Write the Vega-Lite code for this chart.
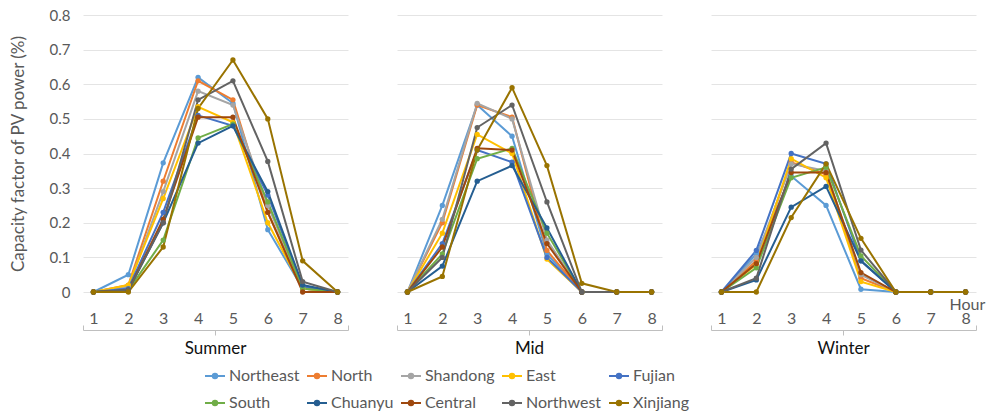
{
  "$schema": "https://vega.github.io/schema/vega-lite/v6.json",
  "background": "white",
  "padding": {"left": 9, "top": 8, "right": 5, "bottom": 5},
  "config": {
    "font": "Lato",
    "view": {"stroke": null},
    "concat": {"spacing": 47}
  },
  "datasets": {
    "pv": [
      {"season":"Summer","region":"Northeast","hour":1,"cf":0},{"season":"Summer","region":"Northeast","hour":2,"cf":0.05},{"season":"Summer","region":"Northeast","hour":3,"cf":0.373},{"season":"Summer","region":"Northeast","hour":4,"cf":0.62},{"season":"Summer","region":"Northeast","hour":5,"cf":0.545},{"season":"Summer","region":"Northeast","hour":6,"cf":0.18},{"season":"Summer","region":"Northeast","hour":7,"cf":0.01},{"season":"Summer","region":"Northeast","hour":8,"cf":0},
      {"season":"Summer","region":"North","hour":1,"cf":0},{"season":"Summer","region":"North","hour":2,"cf":0.02},{"season":"Summer","region":"North","hour":3,"cf":0.32},{"season":"Summer","region":"North","hour":4,"cf":0.61},{"season":"Summer","region":"North","hour":5,"cf":0.555},{"season":"Summer","region":"North","hour":6,"cf":0.23},{"season":"Summer","region":"North","hour":7,"cf":0.01},{"season":"Summer","region":"North","hour":8,"cf":0},
      {"season":"Summer","region":"Shandong","hour":1,"cf":0},{"season":"Summer","region":"Shandong","hour":2,"cf":0.015},{"season":"Summer","region":"Shandong","hour":3,"cf":0.29},{"season":"Summer","region":"Shandong","hour":4,"cf":0.58},{"season":"Summer","region":"Shandong","hour":5,"cf":0.54},{"season":"Summer","region":"Shandong","hour":6,"cf":0.25},{"season":"Summer","region":"Shandong","hour":7,"cf":0.01},{"season":"Summer","region":"Shandong","hour":8,"cf":0},
      {"season":"Summer","region":"East","hour":1,"cf":0},{"season":"Summer","region":"East","hour":2,"cf":0.02},{"season":"Summer","region":"East","hour":3,"cf":0.27},{"season":"Summer","region":"East","hour":4,"cf":0.535},{"season":"Summer","region":"East","hour":5,"cf":0.49},{"season":"Summer","region":"East","hour":6,"cf":0.2},{"season":"Summer","region":"East","hour":7,"cf":0.01},{"season":"Summer","region":"East","hour":8,"cf":0},
      {"season":"Summer","region":"Fujian","hour":1,"cf":0},{"season":"Summer","region":"Fujian","hour":2,"cf":0.01},{"season":"Summer","region":"Fujian","hour":3,"cf":0.23},{"season":"Summer","region":"Fujian","hour":4,"cf":0.51},{"season":"Summer","region":"Fujian","hour":5,"cf":0.48},{"season":"Summer","region":"Fujian","hour":6,"cf":0.28},{"season":"Summer","region":"Fujian","hour":7,"cf":0.015},{"season":"Summer","region":"Fujian","hour":8,"cf":0},
      {"season":"Summer","region":"South","hour":1,"cf":0},{"season":"Summer","region":"South","hour":2,"cf":0.005},{"season":"Summer","region":"South","hour":3,"cf":0.15},{"season":"Summer","region":"South","hour":4,"cf":0.445},{"season":"Summer","region":"South","hour":5,"cf":0.485},{"season":"Summer","region":"South","hour":6,"cf":0.26},{"season":"Summer","region":"South","hour":7,"cf":0.01},{"season":"Summer","region":"South","hour":8,"cf":0},
      {"season":"Summer","region":"Chuanyu","hour":1,"cf":0},{"season":"Summer","region":"Chuanyu","hour":2,"cf":0.005},{"season":"Summer","region":"Chuanyu","hour":3,"cf":0.2},{"season":"Summer","region":"Chuanyu","hour":4,"cf":0.43},{"season":"Summer","region":"Chuanyu","hour":5,"cf":0.48},{"season":"Summer","region":"Chuanyu","hour":6,"cf":0.29},{"season":"Summer","region":"Chuanyu","hour":7,"cf":0.02},{"season":"Summer","region":"Chuanyu","hour":8,"cf":0},
      {"season":"Summer","region":"Central","hour":1,"cf":0},{"season":"Summer","region":"Central","hour":2,"cf":0.005},{"season":"Summer","region":"Central","hour":3,"cf":0.21},{"season":"Summer","region":"Central","hour":4,"cf":0.505},{"season":"Summer","region":"Central","hour":5,"cf":0.505},{"season":"Summer","region":"Central","hour":6,"cf":0.23},{"season":"Summer","region":"Central","hour":7,"cf":0},{"season":"Summer","region":"Central","hour":8,"cf":0},
      {"season":"Summer","region":"Northwest","hour":1,"cf":0},{"season":"Summer","region":"Northwest","hour":2,"cf":0.005},{"season":"Summer","region":"Northwest","hour":3,"cf":0.2},{"season":"Summer","region":"Northwest","hour":4,"cf":0.555},{"season":"Summer","region":"Northwest","hour":5,"cf":0.61},{"season":"Summer","region":"Northwest","hour":6,"cf":0.377},{"season":"Summer","region":"Northwest","hour":7,"cf":0.03},{"season":"Summer","region":"Northwest","hour":8,"cf":0},
      {"season":"Summer","region":"Xinjiang","hour":1,"cf":0},{"season":"Summer","region":"Xinjiang","hour":2,"cf":0},{"season":"Summer","region":"Xinjiang","hour":3,"cf":0.13},{"season":"Summer","region":"Xinjiang","hour":4,"cf":0.53},{"season":"Summer","region":"Xinjiang","hour":5,"cf":0.67},{"season":"Summer","region":"Xinjiang","hour":6,"cf":0.5},{"season":"Summer","region":"Xinjiang","hour":7,"cf":0.09},{"season":"Summer","region":"Xinjiang","hour":8,"cf":0},

      {"season":"Mid","region":"Northeast","hour":1,"cf":0},{"season":"Mid","region":"Northeast","hour":2,"cf":0.25},{"season":"Mid","region":"Northeast","hour":3,"cf":0.54},{"season":"Mid","region":"Northeast","hour":4,"cf":0.45},{"season":"Mid","region":"Northeast","hour":5,"cf":0.11},{"season":"Mid","region":"Northeast","hour":6,"cf":0},{"season":"Mid","region":"Northeast","hour":7,"cf":0},{"season":"Mid","region":"Northeast","hour":8,"cf":0},
      {"season":"Mid","region":"North","hour":1,"cf":0},{"season":"Mid","region":"North","hour":2,"cf":0.2},{"season":"Mid","region":"North","hour":3,"cf":0.54},{"season":"Mid","region":"North","hour":4,"cf":0.505},{"season":"Mid","region":"North","hour":5,"cf":0.12},{"season":"Mid","region":"North","hour":6,"cf":0},{"season":"Mid","region":"North","hour":7,"cf":0},{"season":"Mid","region":"North","hour":8,"cf":0},
      {"season":"Mid","region":"Shandong","hour":1,"cf":0},{"season":"Mid","region":"Shandong","hour":2,"cf":0.21},{"season":"Mid","region":"Shandong","hour":3,"cf":0.545},{"season":"Mid","region":"Shandong","hour":4,"cf":0.5},{"season":"Mid","region":"Shandong","hour":5,"cf":0.15},{"season":"Mid","region":"Shandong","hour":6,"cf":0},{"season":"Mid","region":"Shandong","hour":7,"cf":0},{"season":"Mid","region":"Shandong","hour":8,"cf":0},
      {"season":"Mid","region":"East","hour":1,"cf":0},{"season":"Mid","region":"East","hour":2,"cf":0.17},{"season":"Mid","region":"East","hour":3,"cf":0.455},{"season":"Mid","region":"East","hour":4,"cf":0.4},{"season":"Mid","region":"East","hour":5,"cf":0.095},{"season":"Mid","region":"East","hour":6,"cf":0},{"season":"Mid","region":"East","hour":7,"cf":0},{"season":"Mid","region":"East","hour":8,"cf":0},
      {"season":"Mid","region":"Fujian","hour":1,"cf":0},{"season":"Mid","region":"Fujian","hour":2,"cf":0.14},{"season":"Mid","region":"Fujian","hour":3,"cf":0.41},{"season":"Mid","region":"Fujian","hour":4,"cf":0.375},{"season":"Mid","region":"Fujian","hour":5,"cf":0.1},{"season":"Mid","region":"Fujian","hour":6,"cf":0},{"season":"Mid","region":"Fujian","hour":7,"cf":0},{"season":"Mid","region":"Fujian","hour":8,"cf":0},
      {"season":"Mid","region":"South","hour":1,"cf":0},{"season":"Mid","region":"South","hour":2,"cf":0.11},{"season":"Mid","region":"South","hour":3,"cf":0.385},{"season":"Mid","region":"South","hour":4,"cf":0.415},{"season":"Mid","region":"South","hour":5,"cf":0.17},{"season":"Mid","region":"South","hour":6,"cf":0},{"season":"Mid","region":"South","hour":7,"cf":0},{"season":"Mid","region":"South","hour":8,"cf":0},
      {"season":"Mid","region":"Chuanyu","hour":1,"cf":0},{"season":"Mid","region":"Chuanyu","hour":2,"cf":0.075},{"season":"Mid","region":"Chuanyu","hour":3,"cf":0.32},{"season":"Mid","region":"Chuanyu","hour":4,"cf":0.365},{"season":"Mid","region":"Chuanyu","hour":5,"cf":0.185},{"season":"Mid","region":"Chuanyu","hour":6,"cf":0},{"season":"Mid","region":"Chuanyu","hour":7,"cf":0},{"season":"Mid","region":"Chuanyu","hour":8,"cf":0},
      {"season":"Mid","region":"Central","hour":1,"cf":0},{"season":"Mid","region":"Central","hour":2,"cf":0.13},{"season":"Mid","region":"Central","hour":3,"cf":0.415},{"season":"Mid","region":"Central","hour":4,"cf":0.41},{"season":"Mid","region":"Central","hour":5,"cf":0.14},{"season":"Mid","region":"Central","hour":6,"cf":0},{"season":"Mid","region":"Central","hour":7,"cf":0},{"season":"Mid","region":"Central","hour":8,"cf":0},
      {"season":"Mid","region":"Northwest","hour":1,"cf":0},{"season":"Mid","region":"Northwest","hour":2,"cf":0.1},{"season":"Mid","region":"Northwest","hour":3,"cf":0.475},{"season":"Mid","region":"Northwest","hour":4,"cf":0.54},{"season":"Mid","region":"Northwest","hour":5,"cf":0.26},{"season":"Mid","region":"Northwest","hour":6,"cf":0},{"season":"Mid","region":"Northwest","hour":7,"cf":0},{"season":"Mid","region":"Northwest","hour":8,"cf":0},
      {"season":"Mid","region":"Xinjiang","hour":1,"cf":0},{"season":"Mid","region":"Xinjiang","hour":2,"cf":0.045},{"season":"Mid","region":"Xinjiang","hour":3,"cf":0.41},{"season":"Mid","region":"Xinjiang","hour":4,"cf":0.59},{"season":"Mid","region":"Xinjiang","hour":5,"cf":0.365},{"season":"Mid","region":"Xinjiang","hour":6,"cf":0.025},{"season":"Mid","region":"Xinjiang","hour":7,"cf":0},{"season":"Mid","region":"Xinjiang","hour":8,"cf":0},

      {"season":"Winter","region":"Northeast","hour":1,"cf":0},{"season":"Winter","region":"Northeast","hour":2,"cf":0.11},{"season":"Winter","region":"Northeast","hour":3,"cf":0.335},{"season":"Winter","region":"Northeast","hour":4,"cf":0.25},{"season":"Winter","region":"Northeast","hour":5,"cf":0.008},{"season":"Winter","region":"Northeast","hour":6,"cf":0},{"season":"Winter","region":"Northeast","hour":7,"cf":0},{"season":"Winter","region":"Northeast","hour":8,"cf":0},
      {"season":"Winter","region":"North","hour":1,"cf":0},{"season":"Winter","region":"North","hour":2,"cf":0.09},{"season":"Winter","region":"North","hour":3,"cf":0.375},{"season":"Winter","region":"North","hour":4,"cf":0.34},{"season":"Winter","region":"North","hour":5,"cf":0.04},{"season":"Winter","region":"North","hour":6,"cf":0},{"season":"Winter","region":"North","hour":7,"cf":0},{"season":"Winter","region":"North","hour":8,"cf":0},
      {"season":"Winter","region":"Shandong","hour":1,"cf":0},{"season":"Winter","region":"Shandong","hour":2,"cf":0.1},{"season":"Winter","region":"Shandong","hour":3,"cf":0.37},{"season":"Winter","region":"Shandong","hour":4,"cf":0.35},{"season":"Winter","region":"Shandong","hour":5,"cf":0.05},{"season":"Winter","region":"Shandong","hour":6,"cf":0},{"season":"Winter","region":"Shandong","hour":7,"cf":0},{"season":"Winter","region":"Shandong","hour":8,"cf":0},
      {"season":"Winter","region":"East","hour":1,"cf":0},{"season":"Winter","region":"East","hour":2,"cf":0.08},{"season":"Winter","region":"East","hour":3,"cf":0.385},{"season":"Winter","region":"East","hour":4,"cf":0.33},{"season":"Winter","region":"East","hour":5,"cf":0.03},{"season":"Winter","region":"East","hour":6,"cf":0},{"season":"Winter","region":"East","hour":7,"cf":0},{"season":"Winter","region":"East","hour":8,"cf":0},
      {"season":"Winter","region":"Fujian","hour":1,"cf":0},{"season":"Winter","region":"Fujian","hour":2,"cf":0.12},{"season":"Winter","region":"Fujian","hour":3,"cf":0.4},{"season":"Winter","region":"Fujian","hour":4,"cf":0.37},{"season":"Winter","region":"Fujian","hour":5,"cf":0.09},{"season":"Winter","region":"Fujian","hour":6,"cf":0},{"season":"Winter","region":"Fujian","hour":7,"cf":0},{"season":"Winter","region":"Fujian","hour":8,"cf":0},
      {"season":"Winter","region":"South","hour":1,"cf":0},{"season":"Winter","region":"South","hour":2,"cf":0.07},{"season":"Winter","region":"South","hour":3,"cf":0.33},{"season":"Winter","region":"South","hour":4,"cf":0.36},{"season":"Winter","region":"South","hour":5,"cf":0.104},{"season":"Winter","region":"South","hour":6,"cf":0},{"season":"Winter","region":"South","hour":7,"cf":0},{"season":"Winter","region":"South","hour":8,"cf":0},
      {"season":"Winter","region":"Chuanyu","hour":1,"cf":0},{"season":"Winter","region":"Chuanyu","hour":2,"cf":0.035},{"season":"Winter","region":"Chuanyu","hour":3,"cf":0.245},{"season":"Winter","region":"Chuanyu","hour":4,"cf":0.305},{"season":"Winter","region":"Chuanyu","hour":5,"cf":0.09},{"season":"Winter","region":"Chuanyu","hour":6,"cf":0},{"season":"Winter","region":"Chuanyu","hour":7,"cf":0},{"season":"Winter","region":"Chuanyu","hour":8,"cf":0},
      {"season":"Winter","region":"Central","hour":1,"cf":0},{"season":"Winter","region":"Central","hour":2,"cf":0.082},{"season":"Winter","region":"Central","hour":3,"cf":0.345},{"season":"Winter","region":"Central","hour":4,"cf":0.345},{"season":"Winter","region":"Central","hour":5,"cf":0.056},{"season":"Winter","region":"Central","hour":6,"cf":0},{"season":"Winter","region":"Central","hour":7,"cf":0},{"season":"Winter","region":"Central","hour":8,"cf":0},
      {"season":"Winter","region":"Northwest","hour":1,"cf":0},{"season":"Winter","region":"Northwest","hour":2,"cf":0.04},{"season":"Winter","region":"Northwest","hour":3,"cf":0.355},{"season":"Winter","region":"Northwest","hour":4,"cf":0.43},{"season":"Winter","region":"Northwest","hour":5,"cf":0.121},{"season":"Winter","region":"Northwest","hour":6,"cf":0},{"season":"Winter","region":"Northwest","hour":7,"cf":0},{"season":"Winter","region":"Northwest","hour":8,"cf":0},
      {"season":"Winter","region":"Xinjiang","hour":1,"cf":0},{"season":"Winter","region":"Xinjiang","hour":2,"cf":0},{"season":"Winter","region":"Xinjiang","hour":3,"cf":0.215},{"season":"Winter","region":"Xinjiang","hour":4,"cf":0.37},{"season":"Winter","region":"Xinjiang","hour":5,"cf":0.155},{"season":"Winter","region":"Xinjiang","hour":6,"cf":0},{"season":"Winter","region":"Xinjiang","hour":7,"cf":0},{"season":"Winter","region":"Xinjiang","hour":8,"cf":0}
    ]
  },
  "data": {"name": "pv"},
  "hconcat": [
    {
      "width": 265, "height": 277,
      "title": {"text": "Summer", "orient": "bottom", "fontSize": 17, "fontWeight": "normal", "color": "#111111", "offset": 5},
      "transform": [{"filter": "datum.season == 'Summer'"}],
      "mark": {"type": "line", "strokeWidth": 2, "point": {"filled": true, "size": 28}},
      "encoding": {
        "x": {"field": "hour", "type": "quantitative", "scale": {"domain": [0.7, 8.3], "nice": false, "zero": false},
          "axis": {"values": [0.7, 1, 2, 3, 4, 4.5, 5, 6, 7, 8, 8.3], "labelExpr": "datum.value == floor(datum.value) ? datum.value : ''",
            "grid": false, "offset": 38, "domainColor": "#bfbfbf", "tickColor": "#bfbfbf",
            "tickOpacity": {"expr": "datum.value == floor(datum.value) ? 0 : 1"},
            "tickSize": {"expr": "datum.value == 4.5 ? 5 : -5"},
            "labelPadding": -7, "labelBaseline": "middle", "labelFontSize": 16, "labelColor": "#595959", "labelFlush": false, "labelOverlap": false, "title": null}},
        "y": {"field": "cf", "type": "quantitative", "scale": {"domain": [0, 0.8], "nice": false},
          "axis": {"values": [0, 0.1, 0.2, 0.3, 0.4, 0.5, 0.6, 0.7, 0.8], "labelExpr": "datum.value == 0 ? '0' : format(datum.value, '.1f')",
            "domain": false, "ticks": false, "gridColor": "#e4e4e4", "labelFontSize": 15, "labelColor": "#595959", "labelPadding": 13,
            "title": "Capacity factor of PV power (%)", "titleFontSize": 17, "titleFontWeight": "normal", "titleColor": "#595959", "titlePadding": 22}},
        "color": {"field": "region", "type": "nominal",
          "scale": {"domain": ["Northeast","North","Shandong","East","Fujian","South","Chuanyu","Central","Northwest","Xinjiang"],
            "range": ["#5B9BD5","#ED7D31","#A5A5A5","#FFC000","#4472C4","#70AD47","#255E91","#9E480E","#636363","#997300"]},
          "legend": {"orient": "none", "legendX": 121, "legendY": 350, "direction": "horizontal", "columns": 5, "title": null,
            "symbolType": "M-1,0H1M-0.22,0A0.22,0.22,0,1,1,0.22,0A0.22,0.22,0,1,1,-0.22,0", "symbolSize": 400, "symbolStrokeWidth": 2,
            "labelFontSize": 16, "labelColor": "#595959", "labelOffset": 3, "rowPadding": 8, "columnPadding": 3}}
      }
    },
    {
      "width": 265, "height": 277,
      "title": {"text": "Mid", "orient": "bottom", "fontSize": 17, "fontWeight": "normal", "color": "#111111", "offset": 5},
      "transform": [{"filter": "datum.season == 'Mid'"}],
      "mark": {"type": "line", "strokeWidth": 2, "point": {"filled": true, "size": 28}},
      "encoding": {
        "x": {"field": "hour", "type": "quantitative", "scale": {"domain": [0.7, 8.3], "nice": false, "zero": false},
          "axis": {"values": [0.7, 1, 2, 3, 4, 4.5, 5, 6, 7, 8, 8.3], "labelExpr": "datum.value == floor(datum.value) ? datum.value : ''",
            "grid": false, "offset": 38, "domainColor": "#bfbfbf", "tickColor": "#bfbfbf",
            "tickOpacity": {"expr": "datum.value == floor(datum.value) ? 0 : 1"},
            "tickSize": {"expr": "datum.value == 4.5 ? 5 : -5"},
            "labelPadding": -7, "labelBaseline": "middle", "labelFontSize": 16, "labelColor": "#595959", "labelFlush": false, "labelOverlap": false, "title": null}},
        "y": {"field": "cf", "type": "quantitative", "scale": {"domain": [0, 0.8], "nice": false},
          "axis": {"values": [0, 0.1, 0.2, 0.3, 0.4, 0.5, 0.6, 0.7, 0.8], "labels": false, "domain": false, "ticks": false, "gridColor": "#e4e4e4", "title": null}},
        "color": {"field": "region", "type": "nominal",
          "scale": {"domain": ["Northeast","North","Shandong","East","Fujian","South","Chuanyu","Central","Northwest","Xinjiang"],
            "range": ["#5B9BD5","#ED7D31","#A5A5A5","#FFC000","#4472C4","#70AD47","#255E91","#9E480E","#636363","#997300"]},
          "legend": {"orient": "none", "legendX": 121, "legendY": 350, "direction": "horizontal", "columns": 5, "title": null,
            "symbolType": "M-1,0H1M-0.22,0A0.22,0.22,0,1,1,0.22,0A0.22,0.22,0,1,1,-0.22,0", "symbolSize": 400, "symbolStrokeWidth": 2,
            "labelFontSize": 16, "labelColor": "#595959", "labelOffset": 3, "rowPadding": 8, "columnPadding": 3}}
      }
    },
    {
      "width": 265, "height": 277,
      "title": {"text": "Winter", "orient": "bottom", "fontSize": 17, "fontWeight": "normal", "color": "#111111", "offset": 5},
      "transform": [{"filter": "datum.season == 'Winter'"}],
      "mark": {"type": "line", "strokeWidth": 2, "point": {"filled": true, "size": 28}},
      "encoding": {
        "x": {"field": "hour", "type": "quantitative", "scale": {"domain": [0.7, 8.3], "nice": false, "zero": false},
          "axis": {"values": [0.7, 1, 2, 3, 4, 4.5, 5, 6, 7, 8, 8.3], "labelExpr": "datum.value == floor(datum.value) ? datum.value : ''",
            "grid": false, "offset": 38, "domainColor": "#bfbfbf", "tickColor": "#bfbfbf",
            "tickOpacity": {"expr": "datum.value == floor(datum.value) ? 0 : 1"},
            "tickSize": {"expr": "datum.value == 4.5 ? 5 : -5"},
            "labelPadding": -7, "labelBaseline": "middle", "labelFontSize": 16, "labelColor": "#595959", "labelFlush": false, "labelOverlap": false,
            "title": "Hour", "titleX": 238, "titleY": -26, "titleAlign": "left", "titleBaseline": "middle", "titleFontSize": 16, "titleFontWeight": "normal", "titleColor": "#595959"}},
        "y": {"field": "cf", "type": "quantitative", "scale": {"domain": [0, 0.8], "nice": false},
          "axis": {"values": [0, 0.1, 0.2, 0.3, 0.4, 0.5, 0.6, 0.7, 0.8], "labels": false, "domain": false, "ticks": false, "gridColor": "#e4e4e4", "title": null}},
        "color": {"field": "region", "type": "nominal",
          "scale": {"domain": ["Northeast","North","Shandong","East","Fujian","South","Chuanyu","Central","Northwest","Xinjiang"],
            "range": ["#5B9BD5","#ED7D31","#A5A5A5","#FFC000","#4472C4","#70AD47","#255E91","#9E480E","#636363","#997300"]},
          "legend": {"orient": "none", "legendX": 121, "legendY": 350, "direction": "horizontal", "columns": 5, "title": null,
            "symbolType": "M-1,0H1M-0.22,0A0.22,0.22,0,1,1,0.22,0A0.22,0.22,0,1,1,-0.22,0", "symbolSize": 400, "symbolStrokeWidth": 2,
            "labelFontSize": 16, "labelColor": "#595959", "labelOffset": 3, "rowPadding": 8, "columnPadding": 3}}
      }
    }
  ]
}
